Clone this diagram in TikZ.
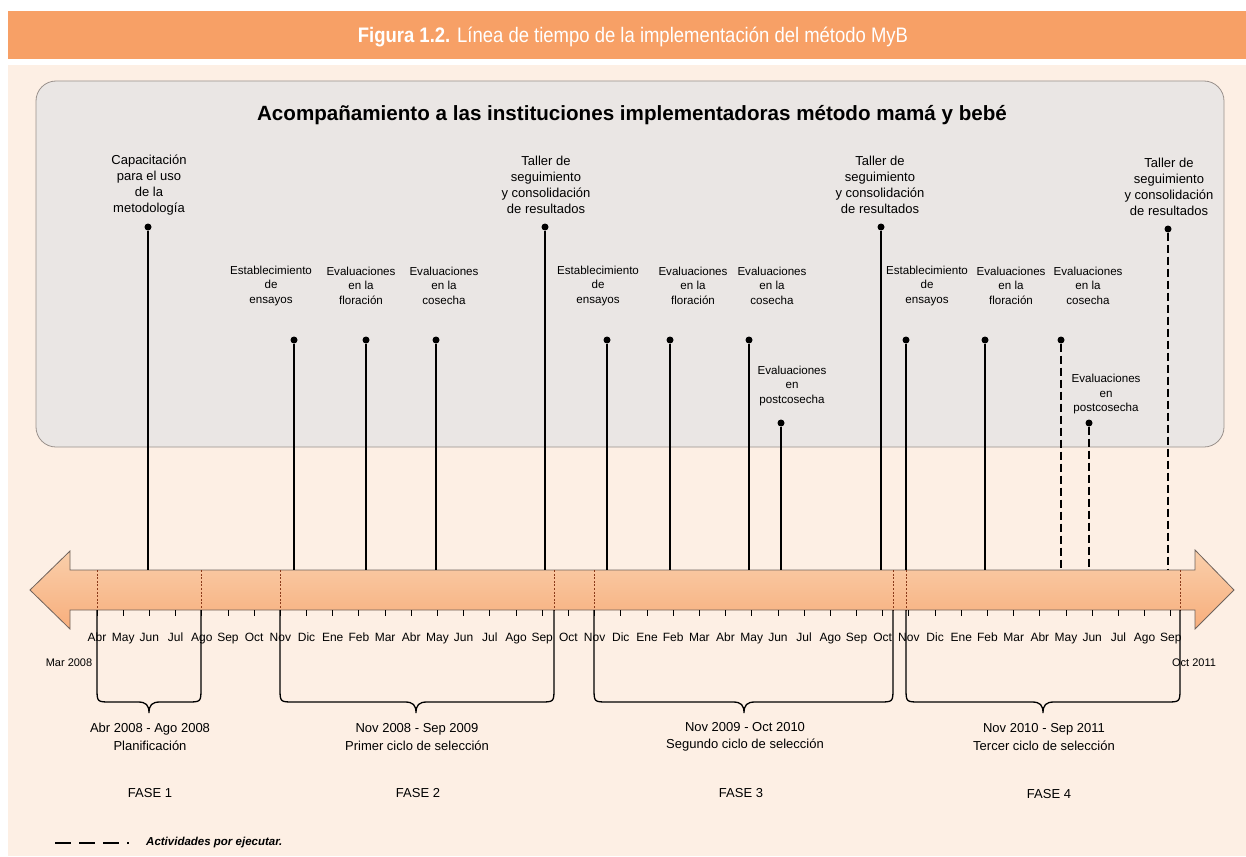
\documentclass[tikz,border=0pt]{standalone}
\usepackage{fontspec}
\setmainfont{Liberation Sans}
\newfontfamily\condfont[FakeStretch=0.88]{Liberation Sans}
\usetikzlibrary{calc}

\definecolor{barra}{HTML}{F7A066}
\definecolor{fondo}{HTML}{FDEFE4}
\definecolor{caja}{HTML}{EAE6E4}
\definecolor{bordecaja}{HTML}{9A918C}
\definecolor{flechaclara}{HTML}{F9CFAB}
\definecolor{flechamedia}{HTML}{F48E3A}
\definecolor{flechabaja}{HTML}{F8AE7C}
\definecolor{bordeflecha}{HTML}{6E625C}
\definecolor{corte}{HTML}{8B3A1A}

\begin{document}
\begin{tikzpicture}[
        x = 1pt, y = -1pt, % pixel grid, y going down
        line cap = butt,
        evento/.style = {circle, fill = black, inner sep = 0pt, minimum size = 7pt},
        linea/.style = {line width = 1.1pt},
        futuro/.style = {line width = 1.1pt, dash pattern = on 8pt off 4pt},
        etiqueta/.style = {align = center, inner sep = 0pt, font = \fontsize{11.6}{14.5}\selectfont},
        etiquetaalta/.style = {align = center, inner sep = 0pt, font = \fontsize{13}{16}\selectfont},
        mes/.style = {anchor = base, inner sep = 0pt, font = \fontsize{12}{14}\selectfont},
        llave/.style = {line width = 1.3pt},
        fase/.style = {align = center, inner sep = 0pt, font = \fontsize{13}{17.5}\selectfont}
    ]

    \useasboundingbox (0,0) rectangle (1246,856);

    % title bar and page
    \fill[barra] (8,11) rectangle (1246,59);
    \node[anchor = base, text = white, inner sep = 0pt,
          font = \condfont\fontsize{21}{25}\selectfont] (titulo) at (633,43)
        {\textbf{Figura 1.2.} Línea de tiempo de la implementación del método MyB};
    \fill[fondo] (8,65) rectangle (1246,856);

    % grey panel
    \draw[fill = caja, draw = bordecaja, line width = 0.8pt, rounded corners = 20pt]
        (36,81) rectangle (1224,447);
    \node[inner sep = 0pt, font = \bfseries\fontsize{20.6}{24}\selectfont] (encabezado) at (632,115)
        {Acompañamiento a las instituciones implementadoras método mamá y bebé};

    % timeline arrow
    \draw[draw = bordeflecha, line width = 0.8pt, top color = flechaclara,
          middle color = flechamedia, bottom color = flechabaja]
        (30,590) -- (70,551) -- (70,570) -- (1195,570) -- (1195,550) -- (1234,590)
        -- (1195,629) -- (1195,610) -- (70,610) -- (70,629) -- cycle;
    \coordinate (eje) at (0,570);
    \coordinate (base) at (0,610);

    % phase limits across the arrow
    \foreach \x in {97,201,280,554,594,893,906,1180}
        \draw[corte, line width = 1pt, dash pattern = on 2pt off 1.6pt] (\x,570) -- (\x,610);

    % months
    \foreach \m [count = \i from 0] in {Abr,May,Jun,Jul,Ago,Sep,Oct,Nov,Dic,Ene,Feb,Mar,
                                       Abr,May,Jun,Jul,Ago,Sep,Oct,Nov,Dic,Ene,Feb,Mar,
                                       Abr,May,Jun,Jul,Ago,Sep,Oct,Nov,Dic,Ene,Feb,Mar,
                                       Abr,May,Jun,Jul,Ago,Sep} {
        \node[mes] (m\i) at (97+26.19*\i,641) {\m};
        \draw[line width = 0.9pt] (97+26.19*\i,610) -- ++(0,6);
    }
    \node[inner sep = 0pt, font = \fontsize{11}{13}\selectfont] (inicio) at (69,663) {Mar 2008};
    \node[inner sep = 0pt, font = \fontsize{11}{13}\selectfont] (final) at (1194,663) {Oct 2011};

    % events
    \node[etiquetaalta] (t1) at (149,185) {Capacitación\\para el uso\\de la\\metodología};
    \node[evento] (d1) at (148,227) {};
    \node[etiqueta] (t2) at (271,285.5) {Establecimiento\\de\\ensayos};
    \node[evento] (d2) at (294,340) {};
    \node[etiqueta] (t3) at (361,285.5) {Evaluaciones\\en la\\floración};
    \node[evento] (d3) at (366,340) {};
    \node[etiqueta] (t4) at (444,285.5) {Evaluaciones\\en la\\cosecha};
    \node[evento] (d4) at (436,340) {};
    \node[etiquetaalta] (t5) at (546,185) {Taller de\\seguimiento\\y consolidación\\de resultados};
    \node[evento] (d5) at (545,227) {};
    \node[etiqueta] (t6) at (598,285.5) {Establecimiento\\de\\ensayos};
    \node[evento] (d6) at (607,340) {};
    \node[etiqueta] (t7) at (693,285.5) {Evaluaciones\\en la\\floración};
    \node[evento] (d7) at (670,340) {};
    \node[etiqueta] (t8) at (772,285.5) {Evaluaciones\\en la\\cosecha};
    \node[evento] (d8) at (749,340) {};
    \node[etiqueta] (t9) at (792,385.5) {Evaluaciones\\en\\postcosecha};
    \node[evento] (d9) at (781,423) {};
    \node[etiquetaalta] (t10) at (880,185) {Taller de\\seguimiento\\y consolidación\\de resultados};
    \node[evento] (d10) at (881,227) {};
    \node[etiqueta] (t11) at (927,285.5) {Establecimiento\\de\\ensayos};
    \node[evento] (d11) at (906,340) {};
    \node[etiqueta] (t12) at (1011,285.5) {Evaluaciones\\en la\\floración};
    \node[evento] (d12) at (985,340) {};
    \node[etiqueta] (t13) at (1088,285.5) {Evaluaciones\\en la\\cosecha};
    \node[evento] (d13) at (1061,340) {};
    \node[etiqueta] (t14) at (1106,394) {Evaluaciones\\en\\postcosecha};
    \node[evento] (d14) at (1089,423) {};
    \node[etiquetaalta] (t15) at (1169,187) {Taller de\\seguimiento\\y consolidación\\de resultados};
    \node[evento] (d15) at (1168,229) {};

    \foreach \d in {d1,d2,d3,d4,d5,d6,d7,d8,d9,d10,d11,d12}
        \draw[linea] (\d) -- (\d |- eje);
    \foreach \d in {d13,d14,d15}
        \draw[futuro] (\d) -- (\d |- eje);

    % phases
    \foreach \xl/\xr/\xm/\n/\txt in {
            97/201/149/1/{Abr 2008 - Ago 2008\\Planificación},
            280/554/416/2/{Nov 2008 - Sep 2009\\Primer ciclo de selección},
            594/893/744/3/{Nov 2009 - Oct 2010\\Segundo ciclo de selección},
            906/1180/1043/4/{Nov 2010 - Sep 2011\\Tercer ciclo de selección}} {
        \draw[llave] (\xl,610) -- (\xl,688) .. controls (\xl,702) .. (\xl+14,702)
            -- (\xm-11,702) .. controls (\xm-3,702) and (\xm,705) .. (\xm,713)
            .. controls (\xm,705) and (\xm+3,702) .. (\xm+11,702)
            -- (\xr-14,702) .. controls (\xr,702) .. (\xr,688) -- (\xr,610);
        \node[fase] (p\n) at (\xm+1,737) {\txt};
    }
    \node[fase] (f1) at (150,793) {FASE 1};
    \node[fase] (f2) at (418,793) {FASE 2};
    \node[fase] (f3) at (741,793) {FASE 3};
    \node[fase] (f4) at (1049,794) {FASE 4};

    % legend
    \coordinate (ley1) at (55,843);
    \coordinate (ley2) at (129,843);
    \draw[line width = 1.6pt, dash pattern = on 16pt off 8pt] (ley1) -- (ley2);
    \node[anchor = west, inner sep = 0pt, font = \bfseries\itshape\fontsize{11.5}{13}\selectfont]
        (leyenda) at (146,843) {Actividades por ejecutar.};
\end{tikzpicture}
\end{document}
